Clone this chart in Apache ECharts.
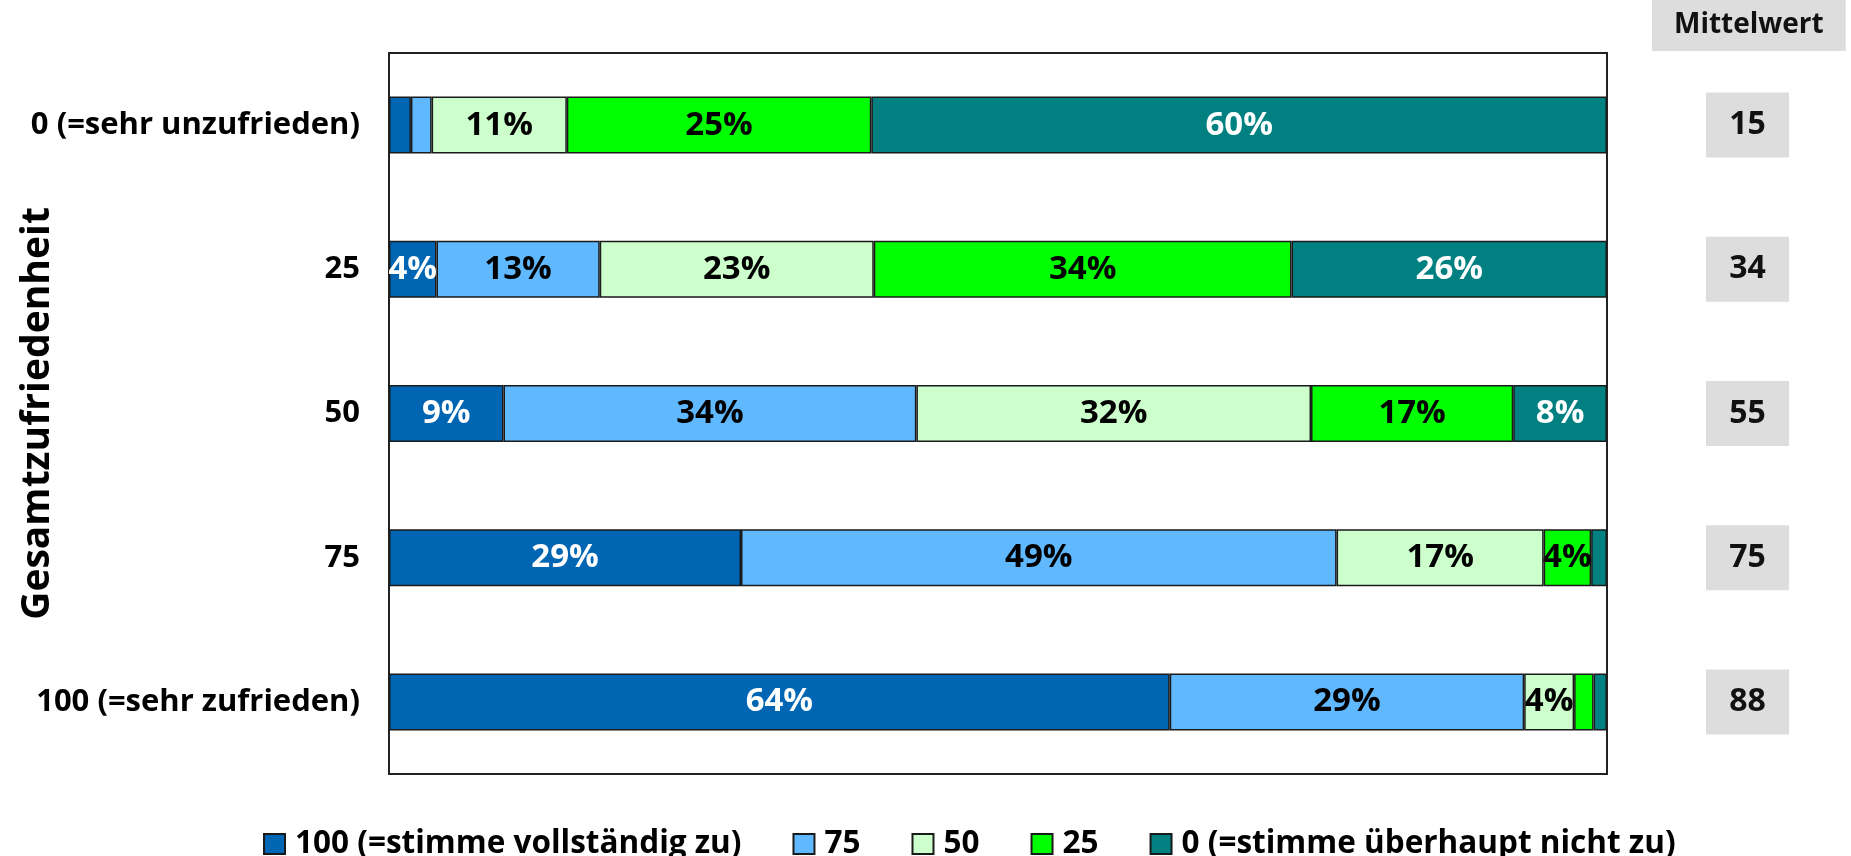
<!DOCTYPE html>
<html>
<head>
<meta charset="utf-8">
<script src="https://cdn.jsdelivr.net/npm/echarts@6/dist/echarts.min.js"></script>
<style>
  html, body { margin: 0; padding: 0; background: #fff; }
  #main { width: 1851px; height: 856px; }
</style>
</head>
<body>
<div id="main"></div>
<script>
// rows: Gesamtzufriedenheit, top to bottom
const categories = ["0 (=sehr unzufrieden)", "25", "50", "75", "100 (=sehr zufrieden)"];
const seriesNames = ["100 (=stimme vollständig zu)", "75", "50", "25", "0 (=stimme überhaupt nicht zu)"];
// shares in % per answer, one entry per row
const s100 = [1.8, 3.9, 9.4, 28.9, 64.1];
const s75 = [1.7, 13.4, 33.9, 48.9, 29.1];
const s50 = [11.1, 22.5, 32.4, 17.0, 4.1];
const s25 = [25.0, 34.3, 16.6, 3.9, 1.6];
const s0 = [60.4, 25.9, 7.7, 1.3, 1.1];
const mittelwert = [15, 34, 55, 75, 88];

const colors = ["#0066B3", "#60B8FF", "#CCFFCC", "#00FF00", "#008080"];
const labelColors = ["#ffffff", "#000000", "#000000", "#000000", "#ffffff"];
const font = "'Open Sans', sans-serif";

const chartDom = document.getElementById("main");
const myChart = echarts.init(chartDom, null, { renderer: "canvas" });

function barSeries(name, data, i) {
  return {
    name: name,
    type: "bar",
    stack: "total",
    barWidth: 57,
    data: data,
    itemStyle: { color: colors[i], borderColor: "#1a1a1a", borderWidth: 1.5 },
    label: {
      show: true,
      position: "inside",
      color: labelColors[i],
      fontFamily: font,
      fontWeight: "bold",
      fontSize: 33,
      formatter: (p) => (p.value >= 3 ? Math.round(p.value) + "%" : "")
    },
    emphasis: { disabled: true }
  };
}

const option = {
  animation: false,
  title: {
    text: "Mittelwert",
    left: 1652,
    top: 0,
    backgroundColor: "#dddddd",
    padding: [11, 22, 12, 22],
    textStyle: { fontFamily: font, fontWeight: "bold", fontSize: 28, color: "#111" }
  },
  legend: {
    data: seriesNames,
    left: 258,
    top: 819,
    icon: "rect",
    itemWidth: 21,
    itemHeight: 20,
    itemGap: 51,
    textStyle: {
      fontFamily: font, fontWeight: "bold", fontSize: 31.5, color: "#000",
      lineHeight: 40, padding: [0, 0, 0, 5]
    }
  },
  grid: [
    {
      left: 389, right: 244, top: 53, bottom: 82,
      outerBoundsMode: "none",
      containLabel: false,
      show: true, borderColor: "#222", borderWidth: 2, backgroundColor: "transparent"
    },
    { left: 1706, width: 83, top: 53, bottom: 82, outerBoundsMode: "none", containLabel: false }
  ],
  xAxis: [
    { type: "value", min: 0, max: 100, show: false, gridIndex: 0 },
    { type: "value", min: 0, max: 1, show: false, gridIndex: 1 }
  ],
  yAxis: [
    {
      type: "category",
      gridIndex: 0,
      data: categories,
      inverse: true,
      name: "Gesamtzufriedenheit",
      nameLocation: "middle",
      nameMoveOverlap: false,
      nameGap: 332,
      nameTextStyle: { fontFamily: font, fontWeight: "bold", fontSize: 39, color: "#000" },
      axisLine: { show: false },
      axisTick: { show: false },
      axisLabel: { fontFamily: font, fontWeight: "bold", fontSize: 31, color: "#000", margin: 29 }
    },
    { type: "category", gridIndex: 1, data: categories, inverse: true, show: false }
  ],
  series: [
    barSeries(seriesNames[0], s100, 0),
    barSeries(seriesNames[1], s75, 1),
    barSeries(seriesNames[2], s50, 2),
    barSeries(seriesNames[3], s25, 3),
    barSeries(seriesNames[4], s0, 4),
    {
      name: "Mittelwert",
      type: "scatter",
      xAxisIndex: 1,
      yAxisIndex: 1,
      symbol: "rect",
      symbolSize: [83, 65],
      silent: true,
      itemStyle: { color: "#dddddd", opacity: 1 },
      label: {
        show: true,
        position: "inside",
        fontFamily: font,
        fontWeight: "bold",
        fontSize: 32,
        color: "#111",
        formatter: (p) => p.value[2]
      },
      data: mittelwert.map((v, i) => [0.5, i, v])
    }
  ]
};

option && myChart.setOption(option);
</script>
</body>
</html>
